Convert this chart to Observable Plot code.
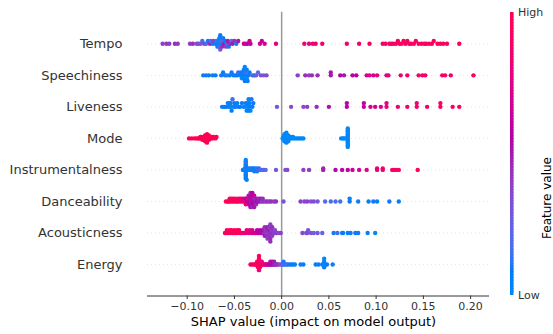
<!DOCTYPE html>
<html><head><meta charset="utf-8">
<script src="https://cdn.jsdelivr.net/npm/d3@7"></script>
<script src="https://cdn.jsdelivr.net/npm/@observablehq/plot@0.6"></script>
<style>
html,body{margin:0;padding:0;background:#fff;}
#wrap{position:relative;width:553px;height:334px;font-family:"DejaVu Sans",sans-serif;}
#wrap svg{position:absolute;left:0;top:0;}
</style></head><body><div id="wrap"></div>
<script>
// ---------- data (top row first) ----------
const featureNames = ["Tempo","Speechiness","Liveness","Mode","Instrumentalness","Danceability","Acousticness","Energy"];
const xTicks = [-0.10,-0.05,0.00,0.05,0.10,0.15,0.20];
const xLabel = "SHAP value (impact on model output)";
const colorLabel = "Feature value";
const colorTickLabels = ["Low","High"];

const tempoShap = [-0.126,-0.122,-0.119,-0.113,-0.110,-0.097,-0.094,-0.090,
 -0.088,-0.086,-0.084,-0.082,-0.080,-0.078,-0.076,-0.075,-0.073,-0.072,-0.070,-0.069,-0.068,-0.067,-0.067,-0.066,-0.066,-0.065,-0.065,-0.064,-0.064,-0.063,-0.062,-0.061,-0.060,-0.059,-0.058,-0.057,-0.056,-0.055,-0.053,-0.052,-0.050,-0.048,-0.046,
 -0.040,-0.038,-0.036,-0.034,-0.033,-0.023,-0.021,-0.018,-0.006,
 0.024,0.029,0.033,0.036,0.043,0.069,0.082,0.093,
 0.107,0.110,0.114,0.116,0.118,0.121,0.123,0.125,0.127,0.129,0.131,0.133,0.135,0.137,0.140,0.142,0.145,0.148,0.151,0.153,0.156,0.159,0.161,0.165,0.168,0.171,0.175,0.188];
const tempoValue = [.40,.42,.40,.45,.42,.40,.45,.35,
 .35,.30,.15,.40,.20,.10,.45,.15,.05,.40,.10,.20,.05,.10,.0,.15,.05,.30,.10,.0,.20,.45,.10,.50,.05,.40,.15,.50,.10,.45,.20,.50,.45,.10,.50,
 .60,.65,.60,.70,.62,.70,.65,.72,.75,
 .85,.82,.85,.88,.85,.88,.90,.90,
 .90,.92,.88,.95,.90,.92,.95,.90,.93,.96,.90,.94,.97,.92,.95,.90,.96,.93,.97,.90,.95,.98,.92,.96,.94,.97,.95,1.0];

const speechShap = [-0.083,-0.080,-0.077,-0.073,-0.070,
 -0.064,-0.062,-0.060,-0.058,-0.055,-0.053,-0.051,-0.049,-0.047,-0.046,
 -0.044,-0.043,-0.042,-0.041,-0.041,-0.040,-0.040,-0.039,-0.039,-0.038,-0.038,-0.037,-0.037,-0.036,-0.035,-0.034,
 -0.031,-0.029,-0.027,-0.025,-0.022,-0.019,-0.016,
 0.017,0.025,0.029,0.032,0.038,0.052,0.052,0.062,0.066,0.075,0.079,0.090,0.093,0.097,0.101,0.111,0.113,0.126,0.133,0.145,0.149,0.152,0.170,0.173,0.179,0.203];
const speechValue = [.05,.10,.05,.10,.05,
 .10,.05,.10,.15,.05,.10,.05,.10,.05,.15,
 .05,.10,0,.05,.10,0,.05,.10,0,.05,.15,0,.10,.05,.10,.05,
 .25,.10,.30,.20,.35,.30,.35,
 .40,.45,.40,.45,.45,.50,.50,.55,.50,.60,.55,.70,.75,.70,.80,.75,.80,.85,.85,.90,.90,.85,.90,.95,.90,1.0];

const livenessShap = [-0.063,-0.061,-0.059,-0.057,-0.056,-0.055,-0.054,-0.054,-0.053,-0.052,-0.051,-0.050,-0.049,-0.047,-0.046,-0.044,
 -0.042,-0.040,-0.039,-0.038,-0.037,-0.036,-0.036,-0.035,-0.035,-0.034,-0.034,-0.033,-0.032,-0.031,-0.030,
 -0.005,0.010,0.023,0.027,0.037,0.050,0.069,0.069,0.087,0.087,0.094,0.099,0.105,0.111,0.111,0.123,0.133,0.143,0.143,0.154,0.168,0.168,0.181,0.188];
const livenessValue = [.05,.10,.05,0,.10,.05,0,.10,.05,.15,0,.05,.10,.05,.10,.05,
 .10,.05,0,.10,.05,0,.10,.05,0,.10,.05,0,.10,.05,.10,
 .30,.35,.35,.40,.45,.50,.55,.60,.62,.65,.70,.70,.75,.80,.78,.85,.85,.88,.85,.90,.95,.92,.90,1.0];

const modeShap = [-0.098,-0.095,-0.092,-0.090,-0.088,-0.087,-0.086,-0.085,-0.085,-0.084,-0.083,-0.083,-0.082,-0.082,-0.081,-0.081,-0.081,-0.080,-0.080,-0.080,-0.080,-0.079,-0.079,-0.079,-0.078,-0.078,-0.077,-0.077,-0.076,-0.075,-0.074,-0.073,-0.072,-0.070,-0.069,
 0.001,0.002,0.002,0.003,0.003,0.003,0.003,0.004,0.004,0.004,0.004,0.004,0.005,0.005,0.005,0.006,0.006,0.006,0.007,0.007,0.008,0.009,0.010,0.011,0.012,0.013,0.015,0.017,0.019,0.021,0.023,
 0.063,0.065,0.066,0.068,0.070,0.070,0.070,0.070,0.070,0.070,0.070,0.070,0.070,0.070,0.070,0.070,0.070,0.070];
const modeValue = [1,1,1,1,1,1,1,1,1,1,1,1,1,1,1,1,1,1,1,1,1,1,1,1,1,1,1,1,1,1,1,1,1,1,1,
 0,0,0,0,0,0,0,0,0,0,0,0,0,0,0,0,0,0,0,0,0,0,0,0,0,0,0,0,0,0,0,
 0,0,0,0,0,0,0,0,0,0,0,0,0,0,0,0,0,0];

const instrShap = [-0.041,-0.040,-0.039,-0.038,-0.038,-0.038,-0.038,-0.038,-0.038,-0.038,-0.038,-0.038,-0.038,-0.038,-0.038,-0.038,-0.038,
 -0.037,-0.036,-0.035,-0.034,-0.033,-0.032,-0.031,-0.030,-0.030,-0.029,-0.028,-0.028,-0.027,-0.026,-0.026,-0.025,-0.024,-0.023,-0.021,-0.019,-0.017,
 -0.006,0.004,0.006,0.023,0.029,0.044,0.044,0.057,0.064,0.070,0.075,0.082,0.090,0.101,0.101,0.107,0.107,0.117,0.119,0.121,0.124,0.144];
const instrValue = [.10,.05,0,.05,.10,0,.15,.05,.10,0,.05,.10,0,.05,.15,.10,0,
 .05,.10,.05,0,.10,.05,.15,.10,.05,.10,.15,.05,.10,.15,.10,.15,.10,.20,.15,.20,.20,
 .30,.32,.35,.40,.42,.50,.48,.55,.60,.62,.65,.70,.75,.80,.82,.85,.88,.90,.92,.90,.95,1.0];

const danceShap = [-0.059,-0.057,-0.056,-0.055,-0.054,-0.053,-0.052,-0.051,-0.050,-0.049,-0.048,-0.047,-0.046,-0.045,-0.044,-0.043,-0.042,-0.041,-0.040,-0.039,-0.038,-0.038,-0.037,-0.037,-0.036,-0.036,-0.035,-0.035,
 -0.034,-0.034,-0.034,-0.033,-0.033,-0.033,-0.032,-0.032,-0.032,-0.031,-0.031,-0.031,-0.030,-0.030,-0.030,-0.029,-0.029,-0.028,-0.028,-0.027,-0.026,-0.026,-0.025,-0.024,-0.023,-0.022,-0.021,-0.020,-0.019,-0.017,-0.015,-0.013,-0.011,-0.008,-0.006,0.002,
 0.020,0.024,0.027,0.031,0.034,0.038,0.046,0.052,0.057,0.062,0.072,0.072,0.081,0.092,0.097,0.101,0.114,0.124];
const danceValue = [1.0,.95,1.0,1.0,.95,.9,1.0,.95,.95,1.0,.9,.95,.85,1.0,.9,.8,.9,.85,.75,.85,.6,.9,.7,.55,.55,.8,.8,.5,
 .6,.5,.55,.65,.55,.45,.5,.7,.5,.6,.45,.55,.55,.5,.6,.65,.5,.5,.45,.45,.55,.5,.5,.45,.5,.5,.4,.45,.45,.4,.45,.4,.45,.4,.45,.3,
 .4,.35,.4,.3,.35,.3,.2,.15,.2,.15,.1,.05,.1,.05,.1,.05,.1,.05];

const acousticShap = [-0.060,-0.059,-0.058,-0.057,-0.056,-0.055,-0.054,-0.053,-0.052,-0.051,-0.050,-0.049,-0.048,-0.047,-0.046,-0.045,-0.044,-0.043,-0.041,-0.040,-0.038,-0.037,-0.035,-0.034,-0.032,-0.031,-0.030,-0.028,-0.027,-0.026,-0.025,-0.024,-0.023,-0.022,-0.021,-0.020,
 -0.019,-0.019,-0.018,-0.018,-0.017,-0.017,-0.016,-0.016,-0.015,-0.015,-0.015,-0.014,-0.014,-0.014,-0.014,-0.013,-0.013,-0.013,-0.013,-0.012,-0.012,-0.012,-0.011,-0.011,-0.010,-0.010,-0.009,-0.008,-0.007,-0.006,-0.005,-0.003,-0.001,
 0.022,0.026,0.027,0.028,0.031,0.034,0.038,0.043,0.055,0.059,0.064,0.065,0.070,0.073,0.078,0.081,0.091,0.099];
const acousticValue = [1.0,.95,.95,1.0,.9,.95,1.0,1.0,.95,.9,1.0,.95,.9,1.0,.95,.9,1.0,.85,.9,.9,.8,.8,.75,.8,.7,.75,.75,.65,.7,.6,.65,.55,.6,.5,.55,.55,
 .45,.5,.5,.45,.45,.4,.4,.45,.45,.5,.4,.4,.45,.4,.5,.4,.5,.45,.4,.45,.4,.45,.45,.4,.4,.45,.45,.4,.35,.4,.4,.35,.4,
 .35,.3,.35,.3,.3,.25,.3,.25,.1,.15,.1,.05,.05,.1,.05,.1,.05,0];

const energyShap = [-0.033,-0.031,-0.029,-0.028,-0.027,-0.026,-0.026,-0.025,-0.025,-0.025,-0.024,-0.024,-0.024,-0.024,-0.024,-0.024,-0.023,-0.023,-0.023,-0.022,-0.022,-0.021,-0.021,-0.020,-0.019,-0.018,-0.017,-0.016,-0.015,-0.014,-0.013,-0.012,-0.012,-0.011,-0.010,-0.010,-0.009,-0.008,-0.008,-0.007,-0.006,-0.005,-0.004,-0.002,
 0.000,0.001,0.002,0.002,0.003,0.005,0.006,0.008,0.010,0.012,0.014,0.020,0.023,0.036,0.039,0.043,0.045,0.045,0.045,0.045,0.046,0.048,0.054];
const energyValue = [.85,.9,.95,.9,1.0,.9,1.0,1.0,.95,.9,1.0,.9,.95,1.0,.85,.95,1.0,.85,.95,.95,.9,1.0,.85,.8,.9,.75,.8,.7,.65,.7,.6,.55,.5,.6,.5,.55,.55,.45,.5,.5,.4,.45,.45,.35,
 .3,.2,.15,.1,.2,.1,.15,.1,.05,.1,.05,.1,.05,.05,.1,.05,0,.05,.1,0,0,.05,.1];

const shapValues = [tempoShap, speechShap, livenessShap, modeShap, instrShap, danceShap, acousticShap, energyShap];
const featureValues = [tempoValue, speechValue, livenessValue, modeValue, instrValue, danceValue, acousticValue, energyValue];

// ---------- SHAP red_blue colormap (LCh interpolation) ----------
function shapRedBlue(t) {
  t = Math.max(0, Math.min(1, t));
  const l = t < 0.5 ? 54 + (40 - 54) * (t / 0.5) : 40 + (54 - 40) * ((t - 0.5) / 0.5);
  const c = 70 + 20 * t;
  const h0 = 4.6588, h1 = 0.35470565 + 2 * Math.PI;
  const h = (h0 + t * (h1 - h0)) * 180 / Math.PI;
  return d3.hcl(h, c, l).formatHex();
}

// ---------- SHAP beeswarm layout ----------
function beeswarm(shaps) {
  const N = shaps.length, nbins = 100;
  const mn = d3.min(shaps), mx = d3.max(shaps);
  const quant = shaps.map(v => Math.round(nbins * (v - mn) / (mx - mn + 1e-8)));
  const inds = d3.range(N).sort((a, b) => quant[a] - quant[b] || a - b);
  const ys = new Array(N).fill(0);
  let layer = 0, last = -1;
  for (const i of inds) {
    if (quant[i] !== last) layer = 0;
    ys[i] = Math.ceil(layer / 2) * ((layer % 2) * 2 - 1);
    layer++; last = quant[i];
  }
  const m = d3.max(ys, y => y + 1);
  return ys.map(y => y * 0.9 * (0.4 / m));
}

const rows = [];
featureNames.forEach((name, i) => {
  const pos = featureNames.length - 1 - i;
  const offs = beeswarm(shapValues[i]);
  shapValues[i].forEach((s, j) => rows.push({feature: name, shap: s, value: featureValues[i][j], y: pos + offs[j]}));
});

const font = "DejaVu Sans";

const main = Plot.plot({
  width: 553, height: 334,
  marginLeft: 147, marginRight: 64, marginTop: 11.8, marginBottom: 38.5,
  style: {fontFamily: font, background: "transparent", overflow: "visible"},
  x: {domain: [-0.142, 0.22]},
  y: {domain: [-1, 8]},
  color: {type: "linear", domain: [0, 1], interpolate: shapRedBlue},
  marks: [
    Plot.ruleY(d3.range(featureNames.length), {stroke: "#cccccc", strokeWidth: 0.5, strokeDasharray: "1,3"}),
    Plot.ruleX([0], {stroke: "#999999", strokeWidth: 1.5}),
    Plot.dot(rows, {x: "shap", y: "y", fill: "value", r: 2.2}),
    Plot.ruleY([-1], {stroke: "#000", strokeWidth: 0.8}),
    Plot.axisX({ticks: xTicks, tickFormat: d3.format(".2f"), tickSize: 3.5, tickPadding: 3, fontSize: 11, color: "#333333", label: null}),
    Plot.axisY({ticks: d3.range(featureNames.length), tickFormat: i => featureNames[featureNames.length - 1 - i], tickSize: 0, tickPadding: 25, fontSize: 13, color: "#333333", label: null}),
    Plot.text([xLabel], {text: d => d, frameAnchor: "bottom", dx: -5, dy: 29.5, fontSize: 13, fill: "#000"})
  ]
});

const ramp = d3.range(0, 1, 0.01);
const bar = Plot.plot({
  width: 553, height: 334,
  marginLeft: 510, marginRight: 39.5, marginTop: 12, marginBottom: 39,
  style: {fontFamily: font, background: "transparent", overflow: "visible"},
  x: {domain: [0, 1], axis: null},
  y: {domain: [0, 1]},
  color: {type: "linear", domain: [0, 1], interpolate: shapRedBlue},
  marks: [
    Plot.rect(ramp, {x1: 0, x2: 1, y1: d => d, y2: d => Math.min(1, d + 0.015), fill: d => d + 0.005}),
    Plot.axisY({anchor: "right", ticks: [0, 1], tickFormat: d => colorTickLabels[d], tickSize: 0, tickPadding: 4, fontSize: 11, color: "#333333", label: null}),
    Plot.text([colorLabel], {text: d => d, frameAnchor: "right", dx: 33, dy: 3, rotate: -90, fontSize: 12, fill: "#000"})
  ]
});

const wrap = document.getElementById("wrap");
wrap.appendChild(main);
wrap.appendChild(bar);
</script></body></html>
